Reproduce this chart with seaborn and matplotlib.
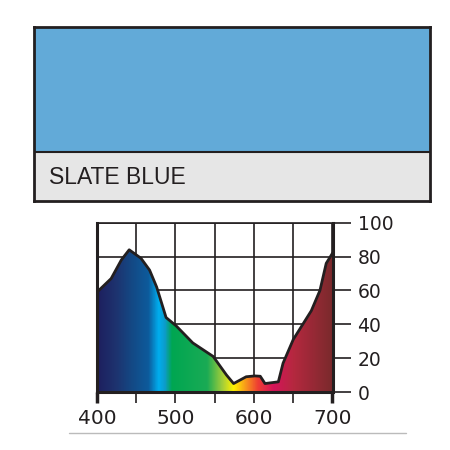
import numpy as np
import matplotlib
matplotlib.use("Agg")
import matplotlib.pyplot as plt
from matplotlib.patches import Rectangle, Polygon
from matplotlib.colors import LinearSegmentedColormap
import seaborn as sns

sns.set_theme(style="white")
plt.rcParams['font.family'] = ['DejaVu Sans']

# filter name + swatch colour
filter_name = "SLATE BLUE"
swatch_color = "#62aad8"

# spectral transmission curve (nm, %)
wavelength = [400, 418, 431, 441, 456, 467, 476, 488, 501, 522, 548, 565, 574,
              590, 601, 608, 614, 631, 637, 650, 673, 684, 692, 700]
transmission = [59, 67, 78, 84, 79, 72, 62, 44, 39, 29, 21, 10, 5,
                9, 9.5, 9.3, 5, 6, 17, 31, 48, 60, 76, 82]

# spectrum colours used for the fill
spec_nm = [400, 425, 445, 465, 478, 486, 495, 540, 560, 574, 590, 605, 625, 650, 700]
spec_col = ["#1e1f5e", "#1d3470", "#134a86", "#0d5b9c", "#00aeef", "#0c9ccb",
            "#00a651", "#1aab55", "#a6ce39", "#fff200", "#f7941d", "#ee3d33",
            "#d4145a", "#b5283f", "#7a2a2c"]

x_ticks = [400, 450, 500, 550, 600, 650, 700]
x_labels = ["400", "", "500", "", "600", "", "700"]
y_ticks = [0, 20, 40, 60, 80, 100]

fig = plt.figure(figsize=(4.5, 4.5), dpi=100)
fig.patch.set_facecolor("white")

# --- swatch box ---
split = 49 / 174
box = fig.add_axes([34 / 450, 1 - 201 / 450, 396 / 450, 174 / 450])
box.set_xlim(0, 1)
box.set_ylim(0, 1)
box.add_patch(Rectangle((0, split), 1, 1 - split, color=swatch_color, lw=0))
box.add_patch(Rectangle((0, 0), 1, split, color="#e6e6e6", lw=0))
box.axhline(split, color="#231f20", lw=1.5)
box.set_xticks([])
box.set_yticks([])
for s in box.spines.values():
    s.set_visible(True)
    s.set_color("#231f20")
    s.set_linewidth(2)
box.text(0.038, split / 2 - 0.005, filter_name, fontsize=16.5, va="center", ha="left",
         color="#231f20", family=["Liberation Sans Narrow", "Liberation Sans", "DejaVu Sans"])

# --- transmission chart ---
ax = fig.add_axes([97 / 450, 1 - 392 / 450, 235.5 / 450, 169.3 / 450])
ax.set_xlim(400, 700)
ax.set_ylim(0, 100)

cmap = LinearSegmentedColormap.from_list(
    "spec", [((n - 400) / 300, c) for n, c in zip(spec_nm, spec_col)])
grad = np.linspace(0, 1, 600).reshape(1, -1)
img = ax.imshow(grad, cmap=cmap, extent=[400, 700, 0, 100], aspect="auto",
                origin="lower", zorder=1)
poly = Polygon(list(zip(wavelength, transmission)) + [(700, 0), (400, 0)],
               closed=True, facecolor="none", edgecolor="none")
ax.add_patch(poly)
img.set_clip_path(poly)

ax.set_xticks(x_ticks)
ax.set_xticklabels(x_labels)
ax.set_yticks(y_ticks)
ax.grid(True, color="#231f20", lw=1.2, zorder=0)
ax.set_axisbelow(True)

sns.lineplot(x=wavelength, y=transmission, ax=ax, color="#231f20", lw=2,
             sort=False, zorder=3)

ax.yaxis.tick_right()
ax.tick_params(axis="y", direction="out", length=13, width=1.2, color="#231f20",
               pad=5, labelsize=13.5, labelcolor="#231f20", right=True, left=False)
ax.tick_params(axis="x", direction="out", length=8, width=1.2, color="#231f20",
               pad=4, labelsize=14.5, labelcolor="#231f20", bottom=True)
for i, tl in enumerate(ax.get_xticklines()):
    if i in (0, 12):
        tl.set_markeredgewidth(2.5)
for name, s in ax.spines.items():
    s.set_visible(True)
    s.set_color("#231f20")
    s.set_linewidth(1.2 if name == "top" else 2.2)
    s.set_zorder(4)
ax.set_xlabel("")
ax.set_ylabel("")

# thin grey rule at bottom
fig.add_artist(plt.Line2D([69 / 450, 406 / 450], [1 - 433 / 450, 1 - 433 / 450],
                          color="#bbbbbb", lw=1))

fig.savefig("out.png", dpi=100)
